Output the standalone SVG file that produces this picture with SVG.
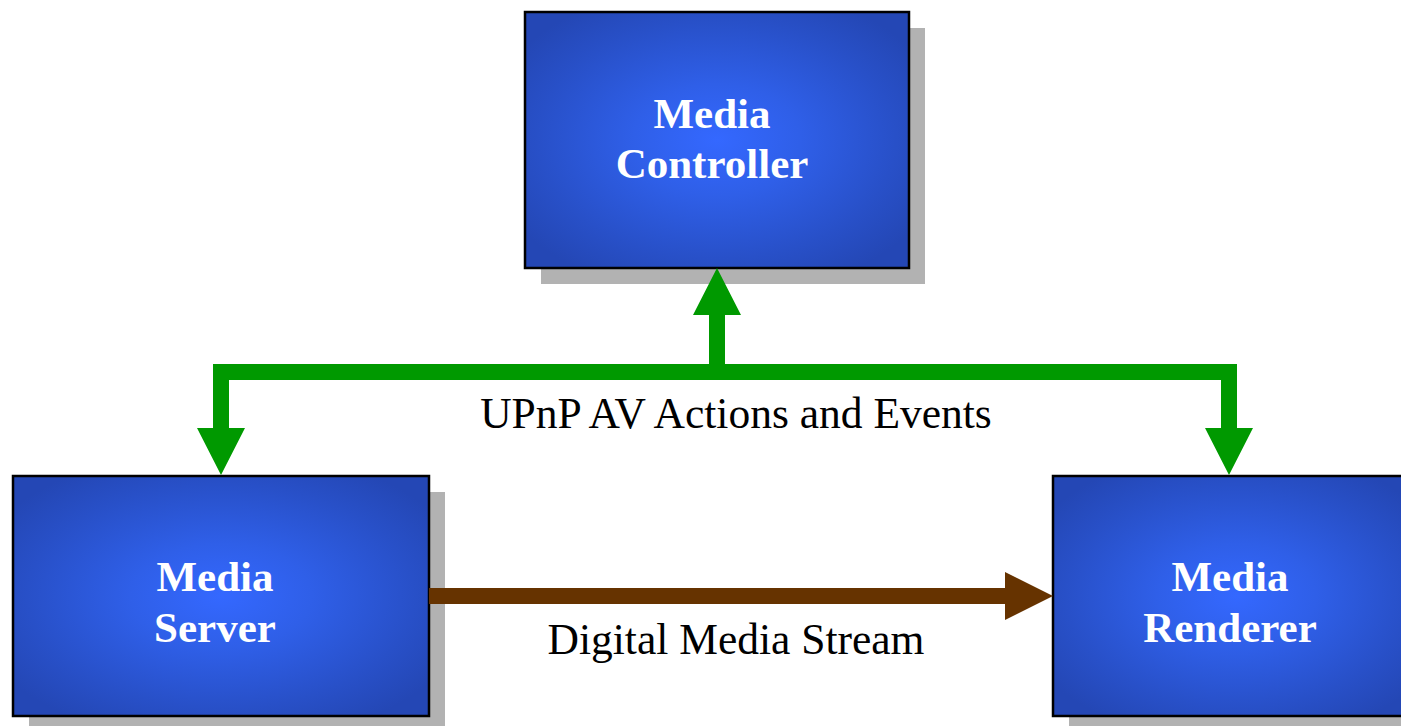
<svg xmlns="http://www.w3.org/2000/svg" width="1401" height="726" viewBox="0 0 1401 726">
  <defs>
    <radialGradient id="boxGrad" cx="0.5" cy="0.5" r="0.62" fx="0.5" fy="0.5">
      <stop offset="0" stop-color="#3468FF"/>
      <stop offset="0.35" stop-color="#2F5FE8"/>
      <stop offset="0.75" stop-color="#2850C8"/>
      <stop offset="1" stop-color="#2447B5"/>
    </radialGradient>
  </defs>
  <style>
    .shadow { fill: #B2B2B2; }
    .box { fill: url(#boxGrad); stroke: #000; stroke-width: 2.5; }
    .ntext { font-family: "Liberation Serif", "Times New Roman", serif; font-weight: bold; font-size: 43px; fill: #FFFFFF; text-anchor: middle; }
    .label { font-family: "Liberation Serif", "Times New Roman", serif; font-size: 43.5px; fill: #000; text-anchor: middle; }
    .green { fill: #009900; }
    .brown { fill: #663300; }
  </style>
  <rect width="1401" height="726" fill="#FFFFFF"/>

  <g id="media-controller">
    <rect class="shadow" x="541" y="28" width="384" height="256"/>
    <rect class="box" x="525" y="12" width="384" height="256"/>
    <text class="ntext" x="712" y="128">Media</text>
    <text class="ntext" x="712" y="178">Controller</text>
  </g>

  <g id="media-server">
    <rect class="shadow" x="29" y="492" width="416" height="240"/>
    <rect class="box" x="13" y="476" width="416" height="240"/>
    <text class="ntext" x="215" y="591">Media</text>
    <text class="ntext" x="215" y="642">Server</text>
  </g>

  <g id="media-renderer">
    <rect class="shadow" x="1069" y="492" width="366" height="240"/>
    <rect class="box" x="1053" y="476" width="366" height="240"/>
    <text class="ntext" x="1230" y="591">Media</text>
    <text class="ntext" x="1230" y="642">Renderer</text>
  </g>

  <g id="connectors">
    <!-- green UPnP bus -->
    <path class="green" d="M213,364 H1237 V428 H1253 L1229,475 L1205,428 H1221 V380 H229 V428 H245 L221,475 L197,428 H213 Z"/>
    <path class="green" d="M709,364 V315 H693 L717,268 L741,315 H725 V364 Z"/>
    <!-- brown media stream -->
    <path class="brown" d="M429,588 H1005 V572 L1053,596 L1005,620 V604 H429 Z"/>
  </g>

  <g id="labels">
    <text class="label" x="736" y="428">UPnP AV Actions and Events</text>
    <text class="label" x="736" y="654">Digital Media Stream</text>
  </g>
</svg>
